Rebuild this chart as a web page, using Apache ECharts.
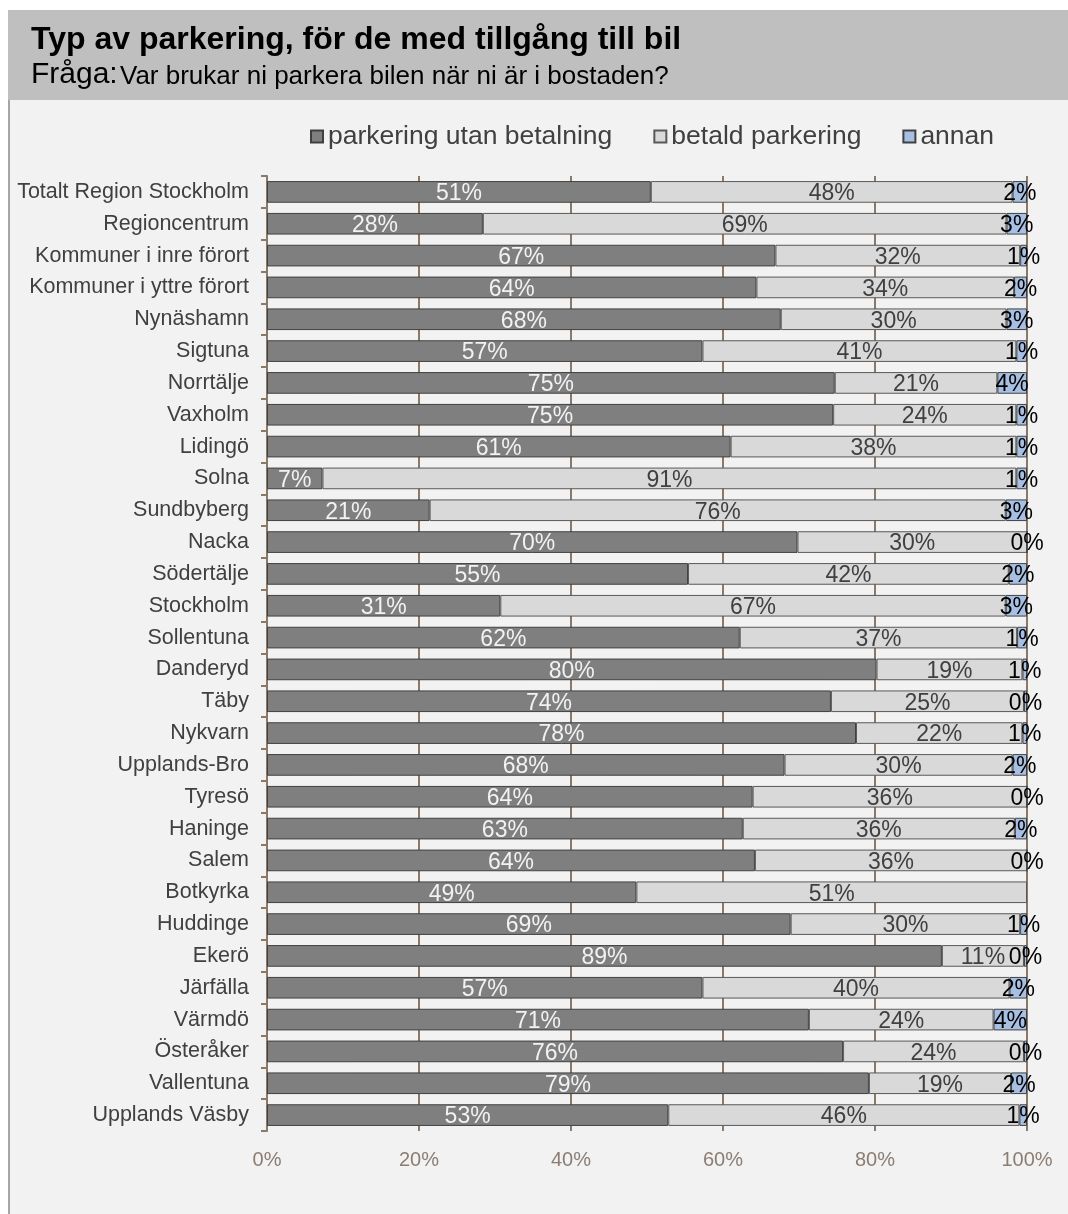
<!DOCTYPE html>
<html>
<head>
<meta charset="utf-8">
<script src="https://cdn.jsdelivr.net/npm/echarts@6/dist/echarts.min.js"></script>
<style>
  html, body { margin: 0; padding: 0; background: #fff; }
  #chart { width: 1068px; height: 1214px; }
</style>
</head>
<body>
<div id="chart"></div>
<script>
  // kategorier, uppifrån och ned
  var categories = ['Totalt Region Stockholm', 'Regioncentrum', 'Kommuner i inre förort', 'Kommuner i yttre förort',
    'Nynäshamn', 'Sigtuna', 'Norrtälje', 'Vaxholm', 'Lidingö', 'Solna', 'Sundbyberg', 'Nacka', 'Södertälje',
    'Stockholm', 'Sollentuna', 'Danderyd', 'Täby', 'Nykvarn', 'Upplands-Bro', 'Tyresö', 'Haninge', 'Salem',
    'Botkyrka', 'Huddinge', 'Ekerö', 'Järfälla', 'Värmdö', 'Österåker', 'Vallentuna', 'Upplands Väsby'];

  var utanBetalning = [50.5, 28.4, 66.9, 64.4, 67.6, 57.3, 74.7, 74.5, 61.0, 7.3, 21.4, 69.8, 55.4, 30.7, 62.2,
    80.2, 74.2, 77.5, 68.1, 63.9, 62.6, 64.2, 48.6, 68.9, 88.8, 57.3, 71.3, 75.8, 79.2, 52.8];
  var betald = [47.6, 68.9, 32.2, 33.9, 29.7, 41.3, 21.4, 24.1, 37.6, 91.3, 75.8, 30.2, 42.2, 66.5, 36.5,
    19.2, 25.4, 21.9, 30.0, 36.1, 35.8, 35.8, 51.4, 30.2, 10.8, 40.4, 24.3, 23.8, 18.7, 46.2];
  var annan = [1.9, 2.7, 0.9, 1.7, 2.7, 1.4, 3.9, 1.4, 1.4, 1.4, 2.8, 0, 2.4, 2.8, 1.3,
    0.6, 0.4, 0.6, 1.9, 0, 1.6, 0, null, 0.9, 0.4, 2.3, 4.4, 0.4, 2.1, 1.0];

  var xTicks = { min: 0, max: 100, interval: 20 };

  var chart = echarts.init(document.getElementById('chart'));
  var font = 'Liberation Sans, Arial, sans-serif';
  var brown = '#8a7968';

  function pct(p) { return Math.round(p.value) + '%'; }

  function barSeries(name, data, color, border, labelColor) {
    return {
      name: name,
      type: 'bar',
      stack: 'total',
      barCategoryGap: '32%',
      data: data,
      itemStyle: { color: color, borderColor: border, borderWidth: 1 },
      label: {
        show: true,
        position: 'inside',
        formatter: pct,
        color: labelColor,
        fontSize: 23,
        fontFamily: font,
        offset: [0, 2]
      },
      emphasis: { disabled: true }
    };
  }

  chart.setOption({
    backgroundColor: '#fff',
    animation: false,
    textStyle: { fontFamily: font },
    graphic: [
      { type: 'rect', z: -10, shape: { x: 8, y: 10, width: 1060, height: 90 }, style: { fill: '#bfbfbf' } },
      { type: 'rect', z: -10, shape: { x: 8, y: 100, width: 1060, height: 1114 }, style: { fill: '#f2f2f2' } },
      { type: 'rect', z: -9, shape: { x: 8, y: 100, width: 2, height: 1114 }, style: { fill: '#a6a6a6' } },
      {
        type: 'text', left: 31, top: 24,
        style: { text: 'Typ av parkering, för de med tillgång till bil', fill: '#000',
          font: 'bold 32px ' + font }
      },
      {
        type: 'text', left: 31, top: 60,
        style: { text: 'Fråga:', fill: '#000', font: '30px ' + font }
      },
      {
        type: 'text', left: 120, top: 64,
        style: { text: 'Var brukar ni parkera bilen när ni är i bostaden?', fill: '#000', font: '26px ' + font }
      }
    ],
    legend: {
      left: 310,
      top: 123,
      padding: 0,
      itemWidth: 12,
      itemHeight: 12,
      itemGap: 41,
      icon: 'rect',
      textStyle: { fontSize: 26.5, color: '#404040', fontFamily: font },
      data: ['parkering utan betalning', 'betald parkering', 'annan']
    },
    grid: { left: 267, right: 41, top: 176, bottom: 83 },
    xAxis: {
      type: 'value',
      min: xTicks.min,
      max: xTicks.max,
      interval: xTicks.interval,
      axisLine: { show: false },
      axisTick: { show: false },
      axisLabel: { formatter: '{value}%', color: '#8c7d72', fontSize: 20, margin: 19, fontFamily: font },
      splitLine: { show: true, lineStyle: { color: brown, width: 2 } }
    },
    yAxis: {
      type: 'category',
      inverse: true,
      data: categories,
      axisLine: { show: true, lineStyle: { color: brown, width: 2 } },
      axisTick: { show: true, length: 6, lineStyle: { color: brown, width: 2 } },
      axisLabel: { color: '#404040', fontSize: 21.5, margin: 18, fontFamily: font }
    },
    series: [
      barSeries('parkering utan betalning', utanBetalning, '#7f7f7f', '#404040', '#f2f2f2'),
      barSeries('betald parkering', betald, '#d9d9d9', '#595959', '#404040'),
      barSeries('annan', annan, '#a6bfe2', '#404040', '#000')
    ]
  });
</script>
</body>
</html>
